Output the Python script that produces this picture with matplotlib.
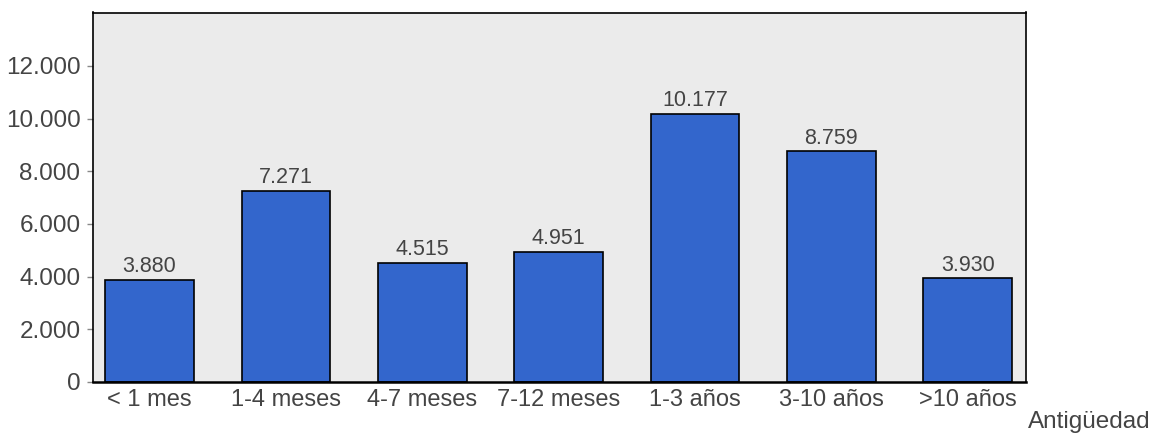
import matplotlib.pyplot as plt
from matplotlib.ticker import FuncFormatter

plt.rcParams['font.family'] = ['Liberation Sans', 'DejaVu Sans']

# data
categorias = ["< 1 mes", "1-4 meses", "4-7 meses", "7-12 meses", "1-3 años", "3-10 años", ">10 años"]
valores = [3880, 7271, 4515, 4951, 10177, 8759, 3930]
y_ticks = [0, 2000, 4000, 6000, 8000, 10000, 12000]

TXT = "#444444"


def miles(v, pos=None):
    return f"{int(round(v)):,}".replace(",", ".")


fig = plt.figure(figsize=(11.52, 4.34), dpi=100)
ax = fig.add_axes([93 / 1152, 1 - 382 / 434, (1025.7 - 93) / 1152, (382 - 12.5) / 434])
ax.set_facecolor("#EBEBEB")

x = range(len(categorias))
bars = ax.bar(x, valores, width=0.65, color="#3366CC", edgecolor="black", linewidth=1.2, zorder=2)

# value labels above each bar
for b, v in zip(bars, valores):
    ax.text(b.get_x() + b.get_width() / 2, b.get_height() + 100, miles(v),
            ha="center", va="bottom", fontsize=15.5, color=TXT)

ax.set_xlim(-0.415, 6.425)
ax.set_ylim(0, 14030)
ax.set_yticks(y_ticks)
ax.yaxis.set_major_formatter(FuncFormatter(miles))
ax.set_xticks(list(x))
ax.set_xticklabels(categorias)

ax.tick_params(axis="y", length=4, width=1, color="#888888", labelsize=17.5, labelcolor=TXT, pad=5)
ax.tick_params(axis="x", length=0, labelsize=17, labelcolor=TXT, pad=5)

for s in ax.spines.values():
    s.set_color("black")
    s.set_linewidth(1.2)
ax.spines["bottom"].set_linewidth(1.8)

fig.text(1028 / 1152, 1 - 428 / 434, "Antigüedad", ha="left", va="baseline", fontsize=17.5, color=TXT)

fig.savefig("out.png", dpi=100)
